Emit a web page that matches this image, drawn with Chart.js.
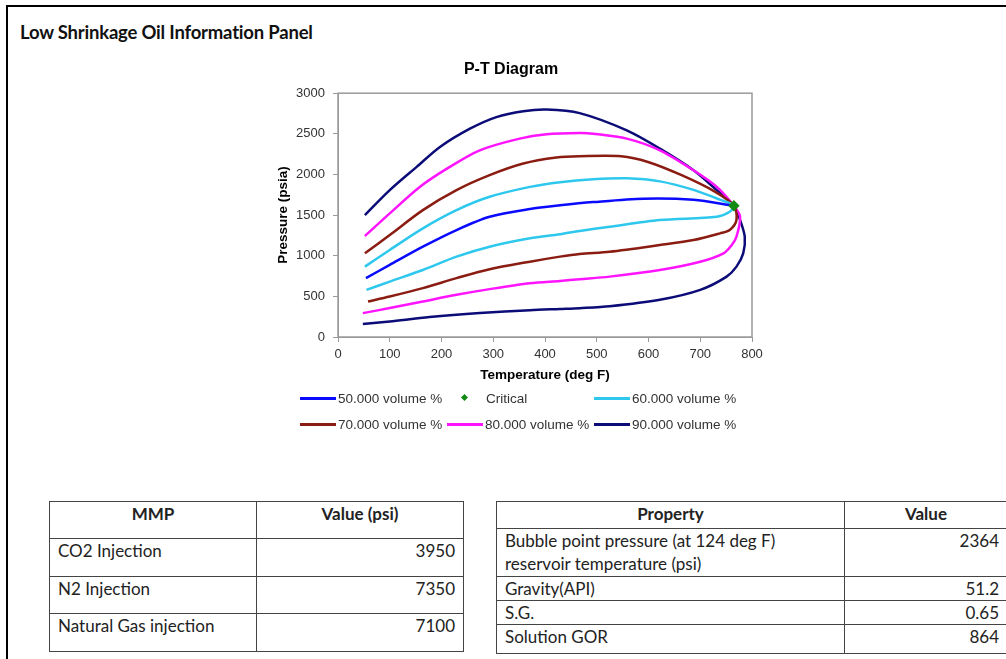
<!DOCTYPE html>
<html>
<head>
<meta charset="utf-8">
<script src="https://cdn.jsdelivr.net/npm/chart.js@4.4.1/dist/chart.umd.min.js"></script>
<style>
  body { margin: 0; background: #fff; width: 1006px; height: 659px; overflow: hidden; position: relative; }
  .frame { position: absolute; left: 6px; top: 5px; width: 1100px; height: 700px; border-left: 2px solid #000; border-top: 2px solid #000; }
  .panel-title { position: absolute; left: 20px; top: 21px; font: bold 18.5px Lato, "Open Sans", sans-serif; color: #111; letter-spacing: -0.2px; }
  #chartBox { position: absolute; left: 270px; top: 50px; width: 510px; height: 340px; }
  #legend { position: absolute; left: 300px; top: 388px; width: 460px; font: 13.5px "Liberation Sans", Arial, sans-serif; color: #333; }
  #legend .item { position: absolute; height: 20px; display: flex; align-items: center; white-space: nowrap; }
  #legend .mark { width: 36px; height: 20px; position: relative; margin-right: 2px; }
  table { position: absolute; border-collapse: collapse; font: 17px Lato, "Open Sans", sans-serif; color: #222; }
  td, th { border: 1px solid #444; padding: 0 8px; vertical-align: top; line-height: 23px; white-space: pre-line; }
  th { font-weight: bold; text-align: center; }
  td.num { text-align: right; }
</style>
</head>
<body>
<div class="frame"></div>
<div class="panel-title">Low Shrinkage Oil Information Panel</div>
<div id="chartBox"><canvas id="pt"></canvas></div>
<div id="legend"></div>

<table id="mmpTable" style="left:49px; top:501px; width:415px;"></table>
<table id="propTable" style="left:496px; top:501px; width:512px;"></table>

<script>
// temperatura (deg F) y presión (psia) de cada curva: rama superior, punto crítico y rama inferior
const t50 = [54, 100, 164, 229, 293, 371, 429, 493, 590, 687, 765];
const p50 = [724, 887, 1111, 1316, 1479, 1575, 1620, 1660, 1702, 1688, 1614];

const t60 = [52, 100, 164, 229, 293, 371, 429, 493, 558, 622, 687, 738, 765, 757, 732, 622, 525, 467, 429, 371, 293, 229, 164, 100, 55];
const p60 = [866, 1071, 1337, 1561, 1725, 1847, 1905, 1941, 1952, 1915, 1810, 1690, 1614, 1541, 1479, 1439, 1357, 1305, 1265, 1214, 1111, 989, 825, 682, 580];

const t70 = [52, 100, 164, 229, 293, 358, 422, 467, 547, 599, 664, 729, 765, 770, 757, 738, 687, 622, 525, 467, 429, 371, 293, 229, 164, 100, 58];
const p70 = [1030, 1255, 1561, 1807, 1991, 2134, 2208, 2224, 2224, 2154, 1991, 1786, 1614, 1439, 1316, 1275, 1193, 1132, 1050, 1022, 989, 927, 834, 724, 601, 498, 437];

const t80 = [52, 100, 158, 216, 274, 351, 403, 467, 493, 558, 622, 687, 732, 765, 777, 770, 761, 745, 700, 622, 525, 467, 429, 371, 293, 229, 164, 100, 48];
const p80 = [1242, 1521, 1847, 2093, 2297, 2441, 2494, 2510, 2502, 2441, 2297, 2052, 1847, 1614, 1479, 1234, 1132, 1030, 927, 825, 743, 711, 690, 662, 589, 519, 437, 356, 294];

const t90 = [52, 100, 152, 197, 255, 306, 358, 403, 467, 558, 622, 687, 732, 765, 777, 786, 783, 770, 751, 700, 622, 525, 467, 429, 371, 274, 177, 100, 48];
const p90 = [1500, 1807, 2093, 2338, 2563, 2706, 2779, 2800, 2755, 2543, 2318, 2052, 1807, 1614, 1439, 1234, 1030, 866, 743, 580, 458, 378, 355, 345, 330, 294, 245, 191, 159];

const tCritical = [765];
const pCritical = [1614];

const seriesLabels = ['50.000 volume %', 'Critical', '60.000 volume %', '70.000 volume %', '80.000 volume %', '90.000 volume %'];
const seriesColors = ['#0a0aff', '#138a13', '#2ec8ee', '#8a1c12', '#ff14ff', '#0c0c78'];

const xTicks = [0, 100, 200, 300, 400, 500, 600, 700, 800];
const yTicks = [0, 500, 1000, 1500, 2000, 2500, 3000];

const mmpRows = ['CO2 Injection', 'N2 Injection', 'Natural Gas injection'];
const mmpValues = ['3950', '7350', '7100'];
const propRows = ['Bubble point pressure (at 124 deg F)\nreservoir temperature (psi)', 'Gravity(API)', 'S.G.', 'Solution GOR'];
const propValues = ['2364', '51.2', '0.65', '864'];

function toPoints(ts, ps) {
    return ts.map((t, i) => ({ x: t, y: ps[i] }));
}

const seriesData = [
    toPoints(t50, p50),
    toPoints(tCritical, pCritical),
    toPoints(t60, p60),
    toPoints(t70, p70),
    toPoints(t80, p80),
    toPoints(t90, p90)
];

const datasets = seriesData.map((pts, i) => {
    const isCritical = seriesLabels[i] === 'Critical';
    return {
        label: seriesLabels[i],
        data: pts,
        showLine: !isCritical,
        borderColor: seriesColors[i],
        backgroundColor: seriesColors[i],
        borderWidth: 2.5,
        tension: 0.3,
        pointRadius: isCritical ? 4 : 0,
        pointStyle: isCritical ? 'rectRot' : 'circle',
        order: isCritical ? 0 : 1
    };
});

// marco gris del área de trazado
const plotFrame = {
    id: 'plotFrame',
    afterDraw(chart) {
        const a = chart.chartArea;
        const ctx = chart.ctx;
        ctx.save();
        ctx.strokeStyle = '#9a9a9a';
        ctx.lineWidth = 1.5;
        ctx.strokeRect(a.left, a.top, a.right - a.left, a.bottom - a.top);
        ctx.restore();
    }
};

const tickFont = { family: '"Liberation Sans", Arial, sans-serif', size: 13 };
const titleFont = { family: '"Liberation Sans", Arial, sans-serif', size: 13.5, weight: 'bold' };

const chart = new Chart(document.getElementById('pt').getContext('2d'), {
    type: 'scatter',
    data: { datasets: datasets },
    options: {
        responsive: true,
        maintainAspectRatio: false,
        animation: false,
        layout: { padding: { left: 0, right: 28, top: 0, bottom: 5 } },
        plugins: {
            legend: { display: false },
            tooltip: { enabled: false },
            title: {
                display: true,
                text: 'P-T Diagram',
                color: '#000',
                font: { family: '"Liberation Sans", Arial, sans-serif', size: 16, weight: 'bold' },
                padding: { top: 10, bottom: 14 }
            }
        },
        scales: {
            x: {
                type: 'linear',
                min: xTicks[0],
                max: xTicks[xTicks.length - 1],
                afterBuildTicks: s => { s.ticks = xTicks.map(v => ({ value: v })); },
                afterFit: s => { s.height = 48; },
                ticks: { color: '#333', font: tickFont, padding: 5, maxRotation: 0, callback: v => String(v) },
                grid: { drawOnChartArea: false, tickLength: 5, color: '#9a9a9a' },
                border: { color: '#9a9a9a' },
                title: { display: true, text: 'Temperature (deg F)', color: '#000', font: titleFont, padding: { top: 0, bottom: 2 } }
            },
            y: {
                min: yTicks[0],
                max: yTicks[yTicks.length - 1],
                afterBuildTicks: s => { s.ticks = yTicks.map(v => ({ value: v })); },
                afterFit: s => { s.width = 68; },
                ticks: { color: '#333', font: tickFont, padding: 8, callback: v => String(v) },
                grid: { drawOnChartArea: false, tickLength: 5, color: '#9a9a9a' },
                border: { color: '#9a9a9a' },
                title: { display: true, text: 'Pressure (psia)', color: '#000', font: titleFont, padding: { top: 5, bottom: 0 } }
            }
        }
    },
    plugins: [plotFrame]
});

// leyenda en rejilla de 3 columnas, como la original
const legendEl = document.getElementById('legend');
chart.data.datasets.forEach((ds, i) => {
    const item = document.createElement('div');
    item.className = 'item';
    item.style.left = (i % 3) * 147 + 'px';
    item.style.top = Math.floor(i / 3) * 26 + 'px';
    const mark = document.createElement('span');
    mark.className = 'mark';
    if (ds.showLine) {
        mark.innerHTML = '<span style="position:absolute;left:0;right:0;top:9px;height:2.5px;background:' + ds.borderColor + '"></span>';
    } else {
        mark.innerHTML = '<span style="position:absolute;left:15px;top:7px;width:5px;height:5px;transform:rotate(45deg);background:' + ds.backgroundColor + '"></span>';
        mark.style.marginRight = '3px';
    }
    item.appendChild(mark);
    item.appendChild(document.createTextNode(ds.label));
    legendEl.appendChild(item);
});

function buildTable(el, head, rows, values, firstWidth, rowHeights) {
    let html = '<tr style="height:' + rowHeights[0] + 'px"><th style="width:' + firstWidth + 'px">' + head[0] + '</th><th>' + head[1] + '</th></tr>';
    rows.forEach((r, i) => {
        html += '<tr style="height:' + rowHeights[i + 1] + 'px"><td>' + r + '</td><td class="num">' + values[i] + '</td></tr>';
    });
    el.innerHTML = html;
}

buildTable(document.getElementById('mmpTable'), ['MMP', 'Value (psi)'], mmpRows, mmpValues, 190, [37, 38, 37, 38]);
buildTable(document.getElementById('propTable'), ['Property', 'Value'], propRows, propValues, 331, [27, 48, 23, 23, 29]);
</script>
</body>
</html>
